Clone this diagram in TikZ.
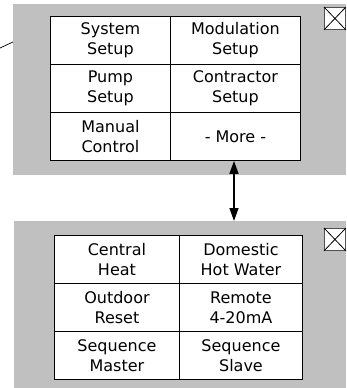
\documentclass[tikz,border=0pt]{standalone}
\usepackage{fontspec}
\setmainfont{DejaVu Sans}
\usepackage{xcolor}
\definecolor{panelgray}{RGB}{192,192,192}
\definecolor{boxedge}{RGB}{80,80,80}
\usetikzlibrary{arrows.meta, positioning}

\begin{document}
\begin{tikzpicture}[
  x=1pt, y=-1pt,
  panel/.style={rectangle, fill=panelgray, draw=none, inner sep=0pt, anchor=north west},
  cell/.style={rectangle, draw=black, line width=0.9pt, fill=white, align=center,
               inner sep=0pt, anchor=north west, font=\fontsize{16}{20}\selectfont},
  closebox/.style={rectangle, draw=boxedge, fill=white, line width=0.9pt,
                   minimum width=21pt, minimum height=22pt, inner sep=0pt, anchor=north west}
]
  \useasboundingbox (0,0) rectangle (346,388);

  % Panels
  \node[panel, minimum width=333pt, minimum height=171pt] (mainpanel) at (13,4) {};
  \node[panel, minimum width=332pt, minimum height=167pt] (morepanel) at (14,221) {};

  % Main menu cells
  \node[cell, minimum width=120pt, minimum height=48pt] (system)     at (50,16)   {System\\Setup};
  \node[cell, minimum width=130pt, minimum height=48pt] (modulation) at (170,16)  {Modulation\\Setup};
  \node[cell, minimum width=120pt, minimum height=48pt] (pump)       at (50,64)   {Pump\\Setup};
  \node[cell, minimum width=130pt, minimum height=48pt] (contractor) at (170,64)  {Contractor\\Setup};
  \node[cell, minimum width=120pt, minimum height=48pt] (manual)     at (50,112)  {Manual\\Control};
  \node[cell, minimum width=130pt, minimum height=48pt] (more)       at (170,112) {- More -};

  % More menu cells
  \node[cell, minimum width=125pt, minimum height=48pt] (central)  at (54,235)  {Central\\Heat};
  \node[cell, minimum width=123pt, minimum height=48pt] (domestic) at (179,235) {Domestic\\Hot Water};
  \node[cell, minimum width=125pt, minimum height=48pt] (outdoor)  at (54,283)  {Outdoor\\Reset};
  \node[cell, minimum width=123pt, minimum height=48pt] (remote)   at (179,283) {Remote\\4-20mA};
  \node[cell, minimum width=125pt, minimum height=48pt] (master)   at (54,331)  {Sequence\\Master};
  \node[cell, minimum width=123pt, minimum height=48pt] (slave)    at (179,331) {Sequence\\Slave};

  % Close boxes
  \node[closebox] (mainclose) at (324,7) {};
  \draw[line width=0.8pt] (mainclose.north west) -- (mainclose.south east)
                          (mainclose.north east) -- (mainclose.south west);
  \node[closebox] (moreclose) at (324,228) {};
  \draw[line width=0.8pt] (moreclose.north west) -- (moreclose.south east)
                          (moreclose.north east) -- (moreclose.south west);

  % Connectors
  \coordinate (lead) at (0,48);
  \draw[line width=0.7pt] (lead) -- (mainpanel.west |- 0,42);
  \draw[{Triangle[length=13pt,width=9pt]}-{Triangle[length=13pt,width=9pt]}, line width=1.4pt]
    (more.south -| 234,0) -- (morepanel.north -| 234,0);
\end{tikzpicture}
\end{document}
